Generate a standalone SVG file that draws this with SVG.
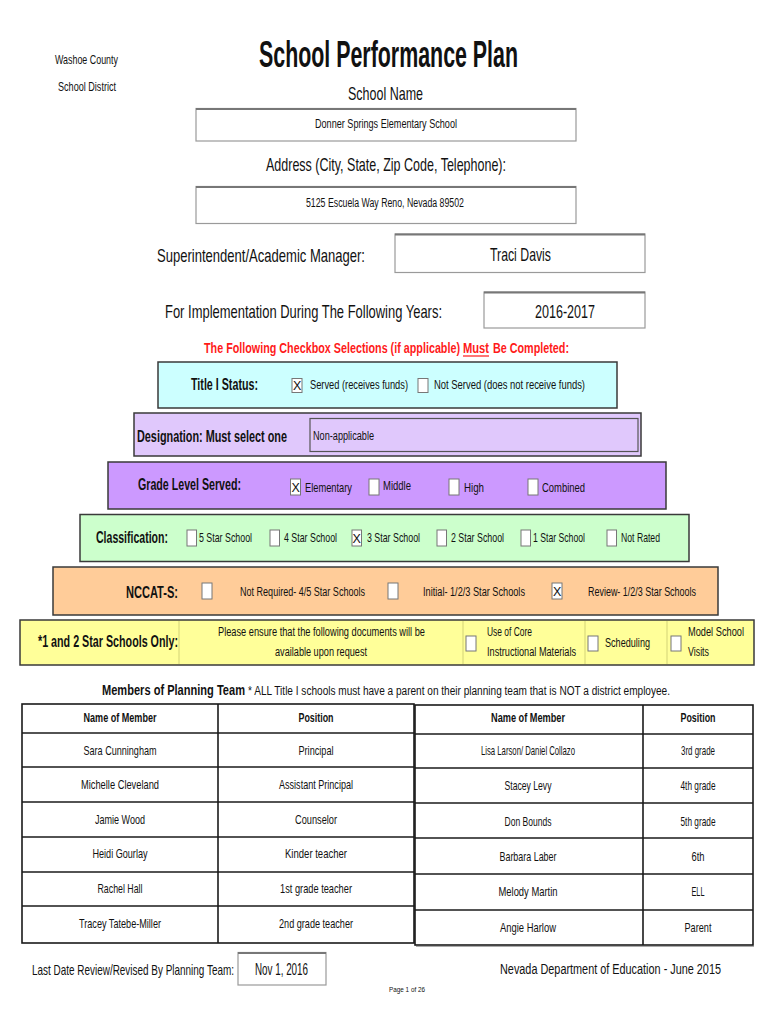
<svg xmlns="http://www.w3.org/2000/svg" width="770" height="1024" viewBox="0 0 770 1024">
<style>
text{font-family:"Liberation Sans Narrow","Liberation Sans",Arial,sans-serif;fill:#111;}
.b{font-weight:bold;}
.red{fill:#ff1a1a;font-weight:bold;font-size:14.5px;}
.band{stroke:#3a3a3a;stroke-width:1.5;}
.inp{fill:#fff;stroke:#9a9a9a;stroke-width:1.2;}
.inptop{stroke:#777;stroke-width:2;}
.cb{fill:#fff;stroke:#777;stroke-width:1;}
.tl{stroke:#1a1a1a;stroke-width:1.6;fill:none;}
.sep{stroke:#c8c870;stroke-width:0.8;}
</style>
<rect width="770" height="1024" fill="#fff"/>

<g id="header">
<text x="55" y="64" font-size="13" textLength="63" lengthAdjust="spacingAndGlyphs">Washoe County</text>
<text x="58" y="91" font-size="13" textLength="58" lengthAdjust="spacingAndGlyphs">School District</text>
<text x="259" y="67" font-size="37" class="b" textLength="259" lengthAdjust="spacingAndGlyphs">School Performance Plan</text>
<text x="348" y="100" font-size="19" textLength="75" lengthAdjust="spacingAndGlyphs">School Name</text>
</g>

<g id="school-name-box">
<rect class="inp" x="196" y="108.5" width="380" height="32.5"/>
<line class="inptop" x1="196" y1="109" x2="576" y2="109"/>
<text x="315" y="128" font-size="12.5" textLength="142" lengthAdjust="spacingAndGlyphs">Donner Springs Elementary School</text>
</g>

<g id="address">
<text x="266" y="171" font-size="19" textLength="240" lengthAdjust="spacingAndGlyphs">Address (City, State, Zip Code, Telephone):</text>
<rect class="inp" x="196" y="186.5" width="380" height="37"/>
<line class="inptop" x1="196" y1="187" x2="576" y2="187"/>
<text x="306" y="207" font-size="12.5" textLength="158" lengthAdjust="spacingAndGlyphs">5125 Escuela Way Reno, Nevada 89502</text>
</g>

<g id="superintendent">
<text x="157" y="262" font-size="19" textLength="208" lengthAdjust="spacingAndGlyphs">Superintendent/Academic Manager:</text>
<rect class="inp" x="395" y="234" width="250" height="38.5"/>
<line class="inptop" x1="395" y1="234.5" x2="645" y2="234.5"/>
<text x="490" y="261" font-size="19" textLength="61" lengthAdjust="spacingAndGlyphs">Traci Davis</text>
</g>

<g id="years">
<text x="165" y="318" font-size="19" textLength="277" lengthAdjust="spacingAndGlyphs">For Implementation During The Following Years:</text>
<rect class="inp" x="484" y="292" width="161" height="36"/>
<line class="inptop" x1="484" y1="292.5" x2="645" y2="292.5"/>
<text x="535" y="318" font-size="19" textLength="60" lengthAdjust="spacingAndGlyphs">2016-2017</text>
</g>

<g id="instruction">
<text x="204" y="353" class="red" textLength="256" lengthAdjust="spacingAndGlyphs">The Following Checkbox Selections (if applicable)</text>
<text x="463" y="353" class="red" textLength="26" lengthAdjust="spacingAndGlyphs">Must</text>
<line x1="463" y1="356" x2="489" y2="356" stroke="#ff1a1a" stroke-width="1.2"/>
<text x="493" y="353" class="red" textLength="76" lengthAdjust="spacingAndGlyphs">Be Completed:</text>
</g>

<g id="title1">
<rect class="band" x="158" y="362" width="459" height="46" fill="#ccffff"/>
<text x="191" y="390" font-size="16" class="b" textLength="67" lengthAdjust="spacingAndGlyphs">Title I Status:</text>
<rect class="cb" x="292" y="378.5" width="10" height="14"/>
<text x="293" y="390" font-size="12.5">X</text>
<text x="310" y="389" font-size="12.5" textLength="98" lengthAdjust="spacingAndGlyphs">Served   (receives funds)</text>
<rect class="cb" x="418" y="378.5" width="10" height="14"/>
<text x="434" y="389" font-size="12.5" textLength="151" lengthAdjust="spacingAndGlyphs">Not Served    (does not receive funds)</text>
</g>

<g id="designation">
<rect class="band" x="134" y="413" width="507" height="43" fill="#e0c8fc"/>
<text x="137" y="442" font-size="16" class="b" textLength="150" lengthAdjust="spacingAndGlyphs">Designation: Must select one</text>
<rect x="310" y="418.5" width="328" height="33" fill="#e0c8fc" stroke="#555" stroke-width="1.2"/>
<text x="313" y="440" font-size="12.5" textLength="61" lengthAdjust="spacingAndGlyphs">Non-applicable</text>
</g>

<g id="grade">
<rect class="band" x="108" y="462" width="558" height="47" fill="#cc99ff"/>
<text x="138" y="490" font-size="16" class="b" textLength="103" lengthAdjust="spacingAndGlyphs">Grade Level Served:</text>
<rect class="cb" x="290.5" y="479" width="10" height="16"/>
<text x="291.5" y="492" font-size="12.5">X</text>
<text x="305" y="492" font-size="13" textLength="47" lengthAdjust="spacingAndGlyphs">Elementary</text>
<rect class="cb" x="369" y="479" width="10" height="16"/>
<text x="383" y="490" font-size="13" textLength="28" lengthAdjust="spacingAndGlyphs">Middle</text>
<rect class="cb" x="449" y="479" width="10" height="16"/>
<text x="464" y="492" font-size="13" textLength="20" lengthAdjust="spacingAndGlyphs">High</text>
<rect class="cb" x="528" y="479" width="10" height="16"/>
<text x="542" y="492" font-size="13" textLength="43" lengthAdjust="spacingAndGlyphs">Combined</text>
</g>

<g id="classification">
<rect class="band" x="80" y="514.5" width="609" height="47" fill="#ccffcc"/>
<text x="96" y="543" font-size="16" class="b" textLength="72" lengthAdjust="spacingAndGlyphs">Classification:</text>
<rect class="cb" x="187" y="530" width="9.5" height="16"/>
<text x="199" y="542" font-size="13" textLength="53" lengthAdjust="spacingAndGlyphs">5 Star School</text>
<rect class="cb" x="270" y="530" width="9.5" height="16"/>
<text x="284" y="542" font-size="13" textLength="53" lengthAdjust="spacingAndGlyphs">4 Star School</text>
<rect class="cb" x="352" y="530" width="9.5" height="16"/>
<text x="352.5" y="543" font-size="12.5">X</text>
<text x="367" y="542" font-size="13" textLength="53" lengthAdjust="spacingAndGlyphs">3 Star School</text>
<rect class="cb" x="437" y="530" width="9.5" height="16"/>
<text x="451" y="542" font-size="13" textLength="53" lengthAdjust="spacingAndGlyphs">2 Star School</text>
<rect class="cb" x="521" y="530" width="9.5" height="16"/>
<text x="533" y="542" font-size="13" textLength="52" lengthAdjust="spacingAndGlyphs">1 Star School</text>
<rect class="cb" x="607" y="530" width="9.5" height="16"/>
<text x="621" y="542" font-size="13" textLength="39" lengthAdjust="spacingAndGlyphs">Not Rated</text>
</g>

<g id="nccat">
<rect class="band" x="53" y="567" width="665" height="48" fill="#ffcc99"/>
<text x="126" y="598" font-size="16" class="b" textLength="52" lengthAdjust="spacingAndGlyphs">NCCAT-S:</text>
<rect class="cb" x="202" y="583" width="10" height="16"/>
<text x="240" y="596" font-size="12.5" textLength="125" lengthAdjust="spacingAndGlyphs">Not Required- 4/5 Star Schools</text>
<rect class="cb" x="388" y="583" width="10" height="16"/>
<text x="423" y="596" font-size="12.5" textLength="102" lengthAdjust="spacingAndGlyphs">Initial- 1/2/3 Star Schools</text>
<rect class="cb" x="552" y="583" width="10" height="16"/>
<text x="553" y="596" font-size="12.5">X</text>
<text x="588" y="596" font-size="12.5" textLength="108" lengthAdjust="spacingAndGlyphs">Review- 1/2/3 Star Schools</text>
</g>

<g id="star-schools">
<rect class="band" x="20" y="620" width="734" height="45" fill="#ffff99"/>
<line class="sep" x1="179" y1="621" x2="179" y2="664"/>
<line class="sep" x1="463" y1="621" x2="463" y2="664"/>
<line class="sep" x1="585" y1="621" x2="585" y2="664"/>
<line class="sep" x1="667" y1="621" x2="667" y2="664"/>
<text x="38" y="647" font-size="16" class="b" textLength="140" lengthAdjust="spacingAndGlyphs">*1 and 2 Star Schools Only:</text>
<text x="218" y="636" font-size="12.5" textLength="207" lengthAdjust="spacingAndGlyphs">Please ensure that the following documents will be</text>
<text x="275" y="656" font-size="12.5" textLength="92" lengthAdjust="spacingAndGlyphs">available upon request</text>
<rect class="cb" x="466" y="636" width="10" height="15"/>
<text x="487" y="636" font-size="12.5" textLength="45" lengthAdjust="spacingAndGlyphs">Use of Core</text>
<text x="487" y="656" font-size="12.5" textLength="89" lengthAdjust="spacingAndGlyphs">Instructional Materials</text>
<rect class="cb" x="588" y="636" width="10" height="15"/>
<text x="605" y="647" font-size="12.5" textLength="45" lengthAdjust="spacingAndGlyphs">Scheduling</text>
<rect class="cb" x="671" y="636" width="10" height="15"/>
<text x="688" y="636" font-size="12.5" textLength="56" lengthAdjust="spacingAndGlyphs">Model School</text>
<text x="688" y="656" font-size="12.5" textLength="21" lengthAdjust="spacingAndGlyphs">Visits</text>
</g>

<g id="members-title">
<text x="102" y="695" font-size="14" class="b" textLength="143" lengthAdjust="spacingAndGlyphs">Members of Planning Team</text>
<text x="248" y="695" font-size="12.5" textLength="422" lengthAdjust="spacingAndGlyphs">* ALL Title I schools must have a parent on their planning team that is NOT a district employee.</text>
</g>

<g id="table-left">
<rect class="tl" x="22" y="704" width="392" height="239"/>
<line class="tl" x1="218" y1="704" x2="218" y2="943"/>
<line class="tl" x1="22" y1="733" x2="414" y2="733"/>
<line class="tl" x1="22" y1="767" x2="414" y2="767"/>
<line class="tl" x1="22" y1="802" x2="414" y2="802"/>
<line class="tl" x1="22" y1="837" x2="414" y2="837"/>
<line class="tl" x1="22" y1="872" x2="414" y2="872"/>
<line class="tl" x1="22" y1="906" x2="414" y2="906"/>
<g font-size="13.5" text-anchor="middle">
<text x="120" y="722" class="b" textLength="73" lengthAdjust="spacingAndGlyphs">Name of Member</text>
<text x="316" y="722" class="b" textLength="35" lengthAdjust="spacingAndGlyphs">Position</text>
<text x="120" y="755" textLength="73" lengthAdjust="spacingAndGlyphs">Sara Cunningham</text>
<text x="316" y="755" textLength="35" lengthAdjust="spacingAndGlyphs">Principal</text>
<text x="120" y="789" textLength="78" lengthAdjust="spacingAndGlyphs">Michelle Cleveland</text>
<text x="316" y="789" textLength="74" lengthAdjust="spacingAndGlyphs">Assistant Principal</text>
<text x="120" y="824" textLength="50" lengthAdjust="spacingAndGlyphs">Jamie Wood</text>
<text x="316" y="824" textLength="42" lengthAdjust="spacingAndGlyphs">Counselor</text>
<text x="120" y="858" textLength="55" lengthAdjust="spacingAndGlyphs">Heidi Gourlay</text>
<text x="316" y="858" textLength="62" lengthAdjust="spacingAndGlyphs">Kinder teacher</text>
<text x="120" y="893" textLength="45" lengthAdjust="spacingAndGlyphs">Rachel Hall</text>
<text x="316" y="893" textLength="72" lengthAdjust="spacingAndGlyphs">1st grade teacher</text>
<text x="120" y="928" textLength="82" lengthAdjust="spacingAndGlyphs">Tracey Tatebe-Miller</text>
<text x="316" y="928" textLength="74" lengthAdjust="spacingAndGlyphs">2nd grade teacher</text>
</g>
</g>

<g id="table-right">
<rect class="tl" x="415" y="705" width="338" height="240"/>
<line class="tl" x1="643" y1="705" x2="643" y2="945"/>
<line class="tl" x1="415" y1="734" x2="753" y2="734"/>
<line class="tl" x1="415" y1="768" x2="753" y2="768"/>
<line class="tl" x1="415" y1="803" x2="753" y2="803"/>
<line class="tl" x1="415" y1="838" x2="753" y2="838"/>
<line class="tl" x1="415" y1="874" x2="753" y2="874"/>
<line class="tl" x1="415" y1="910" x2="753" y2="910"/>
<line x1="416" y1="946.5" x2="754" y2="946.5" stroke="#aaa" stroke-width="1"/>
<g font-size="13.5" text-anchor="middle">
<text x="528" y="722" class="b" textLength="74" lengthAdjust="spacingAndGlyphs">Name of Member</text>
<text x="698" y="722" class="b" textLength="35" lengthAdjust="spacingAndGlyphs">Position</text>
<text x="528" y="755" textLength="94" lengthAdjust="spacingAndGlyphs">Lisa Larson/ Daniel Collazo</text>
<text x="698" y="755" textLength="34" lengthAdjust="spacingAndGlyphs">3rd grade</text>
<text x="528" y="790" textLength="47" lengthAdjust="spacingAndGlyphs">Stacey Levy</text>
<text x="698" y="790" textLength="35" lengthAdjust="spacingAndGlyphs">4th grade</text>
<text x="528" y="826" textLength="47" lengthAdjust="spacingAndGlyphs">Don Bounds</text>
<text x="698" y="826" textLength="35" lengthAdjust="spacingAndGlyphs">5th grade</text>
<text x="528" y="861" textLength="57" lengthAdjust="spacingAndGlyphs">Barbara Laber</text>
<text x="698" y="861" textLength="13" lengthAdjust="spacingAndGlyphs">6th</text>
<text x="528" y="896" textLength="59" lengthAdjust="spacingAndGlyphs">Melody Martin</text>
<text x="698" y="896" textLength="13" lengthAdjust="spacingAndGlyphs">ELL</text>
<text x="528" y="932" textLength="56" lengthAdjust="spacingAndGlyphs">Angie Harlow</text>
<text x="698" y="932" textLength="27" lengthAdjust="spacingAndGlyphs">Parent</text>
</g>
</g>

<g id="footer">
<text x="32" y="975" font-size="15" textLength="202" lengthAdjust="spacingAndGlyphs">Last Date Review/Revised By Planning Team:</text>
<rect class="inp" x="238" y="952.5" width="88" height="32.5"/>
<line class="inptop" x1="238" y1="953" x2="326" y2="953"/>
<text x="255" y="975" font-size="16" textLength="53" lengthAdjust="spacingAndGlyphs">Nov 1, 2016</text>
<text x="500" y="974" font-size="15.5" textLength="221" lengthAdjust="spacingAndGlyphs">Nevada Department of Education - June 2015</text>
<text x="389" y="992" font-size="7.5" textLength="36" lengthAdjust="spacingAndGlyphs">Page 1 of 26</text>
</g>
</svg>
